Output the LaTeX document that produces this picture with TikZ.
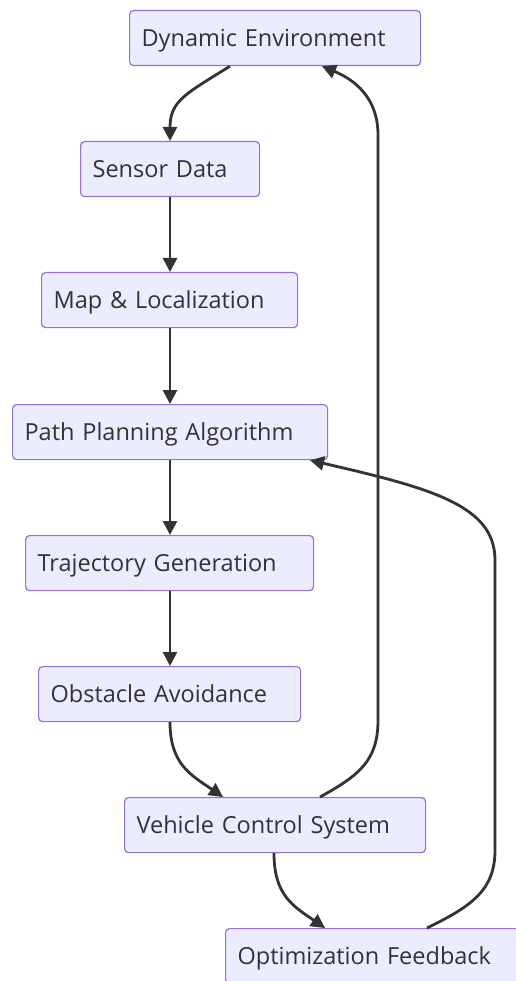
\documentclass[tikz,border=0pt]{standalone}
\usepackage{fontspec}
\setmainfont{Open Sans}
\usetikzlibrary{arrows.meta}
\definecolor{boxfill}{HTML}{ECECFF}
\definecolor{boxline}{HTML}{9370DB}
\definecolor{ink}{HTML}{333333}
\tikzset{
  flowbox/.style={draw=boxline, fill=boxfill, line width=1.2pt, rounded corners=4pt,
    anchor=north west, minimum height=55pt, inner xsep=12pt, inner ysep=0pt,
    text height=20pt, text depth=4pt,
    align=left, text=ink, font=\fontsize{23.5}{28}\selectfont},
  link/.style={draw=ink, line width=2.8pt, -{Triangle[length=14pt,width=14pt]}},
}
\begin{document}
\begin{tikzpicture}[x=1pt,y=-1pt]
\useasboundingbox (0,0) rectangle (515,981);
\fill[white] (0,0) rectangle (515,981);

\node[flowbox, text width=267pt] (dyn) at (129,10) {Dynamic Environment};
\node[flowbox, text width=155pt] (sen) at (80,141) {Sensor Data};
\node[flowbox, text width=232pt] (map) at (41,272) {Map \& Localization};
\node[flowbox, text width=291pt] (path) at (12,404) {Path Planning Algorithm};
\node[flowbox, text width=264pt] (traj) at (25,535) {Trajectory Generation};
\node[flowbox, text width=238pt] (obs) at (38,666) {Obstacle Avoidance};
\node[flowbox, text width=277pt] (veh) at (124,797) {Vehicle Control System};
\node[flowbox, text width=280pt] (opt) at (225,928) {Optimization Feedback};

% main chain
\draw[link] ([xshift=101pt]dyn.south west) .. controls +(-45,28) and +(0,-40) .. ([xshift=90pt]sen.north west);
\draw[link] ([xshift=90pt]sen.south west) -- ([xshift=129pt]map.north west);
\draw[link] ([xshift=129pt]map.south west) -- ([xshift=158pt]path.north west);
\draw[link] ([xshift=158pt]path.south west) -- ([xshift=145pt]traj.north west);
\draw[link] ([xshift=145pt]traj.south west) -- ([xshift=132pt]obs.north west);
\draw[link] ([xshift=132pt]obs.south west) .. controls +(0,42) and +(-32,-22) .. ([xshift=99pt]veh.north west);
\draw[link] ([xshift=150pt]veh.south west) .. controls +(0,42) and +(-32,-22) .. ([xshift=100pt]opt.north west);

% feedback loops
\draw[link] ([xshift=196pt]veh.north west) .. controls +(40,-22) and +(0,40) .. (378,720)
  -- (378,135) .. controls (378,98) and (355,80) .. ([xshift=193pt]dyn.south west);
\draw[link] ([xshift=202pt]opt.north west) .. controls +(45,-22) and +(0,40) .. (495,850)
  -- (495,560) .. controls (495,505) and (430,488) .. ([xshift=298pt]path.south west);
\end{tikzpicture}
\end{document}
